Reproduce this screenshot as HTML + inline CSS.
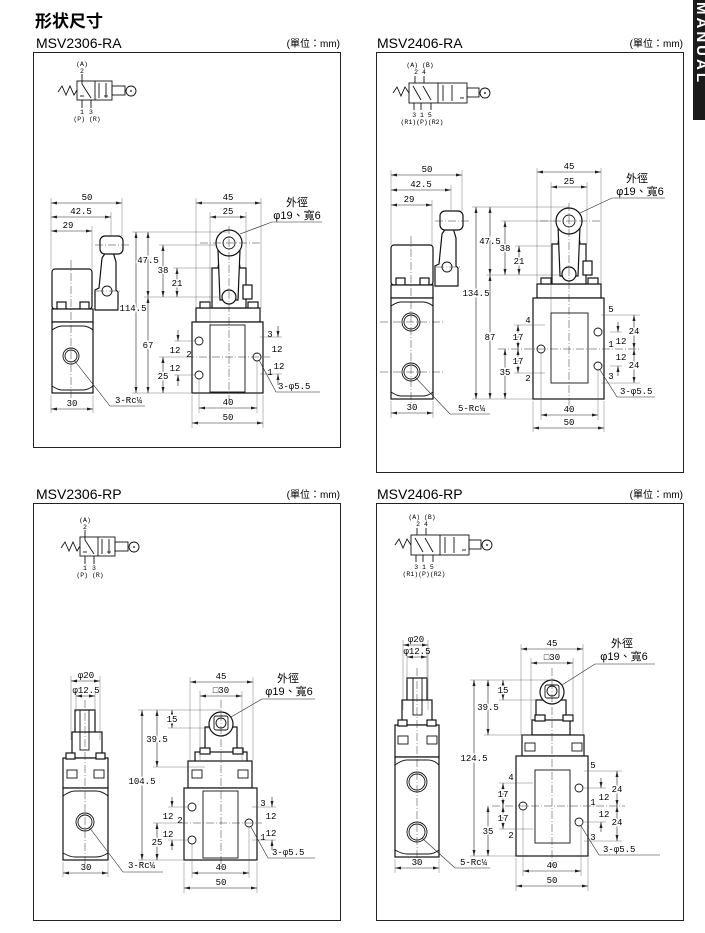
<!DOCTYPE html>
<html><head><meta charset="utf-8"><style>
html,body{margin:0;padding:0;background:#fff}
svg{display:block}
.t{font-family:"Liberation Sans","Noto Sans CJK TC",sans-serif}
.m{font-family:"Liberation Mono",monospace;font-size:9px}
.s{font-family:"Liberation Mono",monospace;font-size:6.5px}
.b{fill:#fff;stroke:#111;stroke-width:1.2}
.d{stroke:#222;stroke-width:.6;fill:none}
.e{stroke:#555;stroke-width:.4;fill:none}
.c{stroke:#333;stroke-width:.5;fill:none;stroke-dasharray:8 2 1 2}
.k{fill:none;stroke:#111;stroke-width:.9}
</style></head><body>
<svg width="705" height="933" viewBox="0 0 705 933" xmlns="http://www.w3.org/2000/svg">
<defs>
<marker id="a" markerWidth="6" markerHeight="4" refX="6" refY="2" orient="auto-start-reverse" markerUnits="userSpaceOnUse"><path d="M0,0.5 L6,2 L0,3.5Z" fill="#222"/></marker>
<g id="v3">
<path class="k" d="M58,92 L62,86 L66,95 L70,86 L74,95 L77,90"/>
<rect class="k" x="77" y="81" width="35" height="19"/><line class="k" x1="95" y1="81" x2="95" y2="100"/>
<line class="k" x1="82" y1="84" x2="91" y2="98"/>
<line class="k" x1="82" y1="74" x2="82" y2="84"/><line class="k" x1="82" y1="100" x2="82" y2="108"/><line class="k" x1="91" y1="100" x2="91" y2="108"/>
<line class="k" x1="80" y1="96" x2="84" y2="96"/>
<line class="k" x1="99" y1="83" x2="99" y2="98"/><line class="k" x1="106" y1="83" x2="106" y2="98"/>
<line class="k" x1="104" y1="96" x2="108" y2="96"/>
<rect class="k" x="112" y="86" width="13" height="9"/><circle class="k" cx="131" cy="91" r="5"/><circle cx="131" cy="91" r=".9"/>
<text class="s" x="82" y="66" text-anchor="middle">(A)</text><text class="s" x="82" y="73" text-anchor="middle">2</text>
<text class="s" x="82" y="114" text-anchor="middle">1</text><text class="s" x="91" y="114" text-anchor="middle">3</text>
<text class="s" x="87" y="121" text-anchor="middle">(P) (R)</text>
</g>
<g id="v5">
<path class="k" d="M393,93 L397,87 L401,96 L405,87 L409,93"/>
<rect class="k" x="409" y="83" width="58" height="20"/><line class="k" x1="438" y1="83" x2="438" y2="103"/>
<line class="k" x1="413" y1="86" x2="421" y2="100"/><line class="k" x1="423" y1="86" x2="431" y2="100"/>
<line class="k" x1="415" y1="76" x2="415" y2="83"/><line class="k" x1="424" y1="76" x2="424" y2="83"/>
<line class="k" x1="414" y1="103" x2="414" y2="110"/><line class="k" x1="421" y1="103" x2="421" y2="110"/><line class="k" x1="431" y1="103" x2="431" y2="110"/>
<line class="k" x1="443" y1="85" x2="443" y2="101"/><line class="k" x1="452" y1="85" x2="452" y2="101"/><line class="k" x1="460" y1="98" x2="464" y2="98"/>
<rect class="k" x="467" y="88" width="12" height="9"/><circle class="k" cx="485" cy="93" r="5"/><circle cx="485" cy="93" r=".9"/>
<text class="s" x="420" y="67" text-anchor="middle">(A) (B)</text><text class="s" x="420" y="74" text-anchor="middle">2 4</text>
<text class="s" x="422" y="117" text-anchor="middle">3 1 5</text><text class="s" x="422" y="124" text-anchor="middle">(R1)(P)(R2)</text>
</g>
</defs>

<text class="t" x="35" y="27" font-size="17" font-weight="bold">形状尺寸</text>
<rect x="693" y="0" width="12" height="120" fill="#1a1a1a"/>
<text class="t" x="697" y="2" font-size="15" font-weight="bold" fill="#fff" transform="rotate(90 697 2)" letter-spacing="3">MANUAL</text>

<text class="t" x="36" y="48" font-size="14">MSV2306-RA</text><text class="t" x="340" y="47" font-size="10" text-anchor="end">(單位：mm)</text>
<text class="t" x="377" y="48" font-size="14">MSV2406-RA</text><text class="t" x="683" y="47" font-size="10" text-anchor="end">(單位：mm)</text>
<text class="t" x="36" y="499" font-size="14">MSV2306-RP</text><text class="t" x="340" y="498" font-size="10" text-anchor="end">(單位：mm)</text>
<text class="t" x="377" y="499" font-size="14">MSV2406-RP</text><text class="t" x="683" y="498" font-size="10" text-anchor="end">(單位：mm)</text>
<rect x="33.5" y="52.5" width="307" height="395" fill="none" stroke="#222" stroke-width="1"/>
<rect x="376.5" y="52.5" width="307" height="420" fill="none" stroke="#222" stroke-width="1"/>
<rect x="33.5" y="503.5" width="307" height="417" fill="none" stroke="#222" stroke-width="1"/>
<rect x="376.5" y="503.5" width="307" height="417" fill="none" stroke="#222" stroke-width="1"/>

<use href="#v3"/>
<use href="#v3" transform="translate(3,456)"/>
<use href="#v5"/>
<use href="#v5" transform="translate(2,452)"/>

<g>
<rect class="b" x="52" y="269" width="40" height="40" rx="3"/>
<rect class="b" x="57" y="302" width="9" height="7"/><rect class="b" x="80" y="302" width="9" height="7"/>
<rect class="b" x="52" y="309" width="41" height="13"/>
<rect class="b" x="52" y="322" width="41" height="71"/>
<path class="k" d="M52,330 Q58,326 62,326 L83,326 Q88,326 93,330"/><path class="k" d="M52,386 Q58,390 62,390 L83,390 Q88,390 93,386"/>
<circle class="k" cx="71" cy="356" r="8"/><circle class="k" cx="71" cy="356" r="6"/>
<path class="b" d="M95,310 L95,290 L99,288 L102,258 L106,252 L113,252 L116,262 L116,290 L118,292 L118,310Z"/>
<rect class="b" x="100" y="236" width="23" height="18" rx="5"/>
<circle class="k" cx="107" cy="291" r="5"/>
<line class="c" x1="71" y1="260" x2="71" y2="400"/><line class="c" x1="95" y1="245" x2="130" y2="245"/><line class="c" x1="96" y1="291" x2="122" y2="291"/>
<line class="d" x1="51" y1="203" x2="122" y2="203" marker-start="url(#a)" marker-end="url(#a)"/><text class="m" x="87" y="200" text-anchor="middle">50</text>
<line class="d" x1="51" y1="217" x2="111" y2="217" marker-start="url(#a)" marker-end="url(#a)"/><text class="m" x="81" y="214" text-anchor="middle">42.5</text>
<line class="d" x1="51" y1="231" x2="92" y2="231" marker-start="url(#a)" marker-end="url(#a)"/><text class="m" x="68" y="228" text-anchor="middle">29</text>
<path class="e" d="M51,198 V269 M122,198 V236 M111,212 V236 M92,226 V269 M51,395 V413 M93,395 V413"/>
<line class="d" x1="51" y1="409" x2="93" y2="409" marker-start="url(#a)" marker-end="url(#a)"/><text class="m" x="72" y="406" text-anchor="middle">30</text>
<path class="d" d="M74,360 L110,406 L145,406"/><text class="m" x="115" y="403">3-Rc¼</text>

<rect class="b" x="196" y="308" width="64" height="14"/>
<rect class="b" x="200" y="302" width="10" height="6"/><rect class="b" x="248" y="302" width="10" height="6"/>
<path class="b" d="M212,308 L212,268 L218,268 L220,252 L238,252 L240,268 L246,268 L246,308Z"/>
<path class="b" d="M220,300 L218,250 L240,250 L238,300Z"/>
<circle class="b" cx="229" cy="243" r="13"/><circle class="k" cx="229" cy="243" r="6"/>
<circle class="b" cx="229" cy="297" r="7"/>
<rect class="b" x="243" y="285" width="9" height="14"/>
<rect class="b" x="192" y="322" width="71" height="71"/>
<rect class="k" x="210" y="325" width="35" height="67"/>
<circle class="k" cx="199" cy="341" r="4"/><circle class="k" cx="199" cy="375" r="4"/><circle class="k" cx="257" cy="357" r="4"/>
<line class="c" x1="229" y1="226" x2="229" y2="400"/><line class="c" x1="200" y1="243" x2="262" y2="243"/>
<line class="c" x1="186" y1="357" x2="270" y2="357"/>
<path class="e" d="M196,198 V308 M261,198 V308 M210,212 V325 M246,212 V268 M132,232 H229 M132,393 H192 M144,297 H220 M159,245 H216 M173,268 H212 M174,341 H195 M174,375 H195 M159,357 H186 M260,337 H282 M260,374 H282 M192,395 V428 M263,395 V428 M199,379 V413 M257,361 V413"/>
<line class="d" x1="196" y1="203" x2="261" y2="203" marker-start="url(#a)" marker-end="url(#a)"/><text class="m" x="228" y="200" text-anchor="middle">45</text>
<line class="d" x1="210" y1="217" x2="246" y2="217" marker-start="url(#a)" marker-end="url(#a)"/><text class="m" x="228" y="214" text-anchor="middle">25</text>
<line class="d" x1="136" y1="232" x2="136" y2="393" marker-start="url(#a)" marker-end="url(#a)"/><text class="m" x="133" y="311" text-anchor="middle" fill="#000" style="paint-order:stroke;stroke:#fff;stroke-width:3">114.5</text>
<line class="d" x1="148" y1="232" x2="148" y2="297" marker-start="url(#a)" marker-end="url(#a)"/><text class="m" x="148" y="263" text-anchor="middle" style="paint-order:stroke;stroke:#fff;stroke-width:3">47.5</text>
<line class="d" x1="148" y1="297" x2="148" y2="393" marker-start="url(#a)" marker-end="url(#a)"/><text class="m" x="148" y="348" text-anchor="middle" style="paint-order:stroke;stroke:#fff;stroke-width:3">67</text>
<line class="d" x1="163" y1="245" x2="163" y2="297" marker-start="url(#a)" marker-end="url(#a)"/><text class="m" x="163" y="273" text-anchor="middle" style="paint-order:stroke;stroke:#fff;stroke-width:3">38</text>
<line class="d" x1="177" y1="268" x2="177" y2="297" marker-start="url(#a)" marker-end="url(#a)"/><text class="m" x="177" y="286" text-anchor="middle" style="paint-order:stroke;stroke:#fff;stroke-width:3">21</text>
<line class="d" x1="178" y1="330" x2="178" y2="341" marker-end="url(#a)"/><line class="d" x1="178" y1="386" x2="178" y2="375" marker-end="url(#a)"/>
<text class="m" x="175" y="353" text-anchor="middle">12</text><text class="m" x="189" y="357" text-anchor="middle">2</text><text class="m" x="175" y="371" text-anchor="middle">12</text>
<line class="d" x1="163" y1="357" x2="163" y2="393" marker-start="url(#a)" marker-end="url(#a)"/><text class="m" x="163" y="379" text-anchor="middle" style="paint-order:stroke;stroke:#fff;stroke-width:3">25</text>
<line class="d" x1="278" y1="326" x2="278" y2="337" marker-end="url(#a)"/><line class="d" x1="278" y1="385" x2="278" y2="374" marker-end="url(#a)"/>
<text class="m" x="270" y="337" text-anchor="middle">3</text><text class="m" x="277" y="352" text-anchor="middle">12</text><text class="m" x="270" y="375" text-anchor="middle">1</text><text class="m" x="279" y="369" text-anchor="middle">12</text>
<path class="d" d="M259,360 L276,392 L320,392"/><text class="m" x="278" y="389">3-φ5.5</text>
<line class="d" x1="199" y1="408" x2="257" y2="408" marker-start="url(#a)" marker-end="url(#a)"/><text class="m" x="228" y="405" text-anchor="middle">40</text>
<line class="d" x1="192" y1="423" x2="263" y2="423" marker-start="url(#a)" marker-end="url(#a)"/><text class="m" x="228" y="420" text-anchor="middle">50</text>
<path class="d" d="M240,234 L272,222 L322,222"/>
<text class="t" x="297" y="206" font-size="11" text-anchor="middle">外徑</text><text class="t" x="297" y="219" font-size="11" text-anchor="middle">φ19、寬6</text>
</g>

<g>
<rect class="b" x="391" y="245" width="42" height="40" rx="3"/>
<rect class="b" x="396" y="278" width="9" height="7"/><rect class="b" x="420" y="278" width="9" height="7"/>
<rect class="b" x="391" y="285" width="42" height="13"/>
<rect class="b" x="391" y="298" width="42" height="101"/>
<path class="k" d="M391,306 Q397,302 401,302 L423,302 Q428,302 433,306"/><path class="k" d="M391,392 Q397,396 401,396 L423,396 Q428,396 433,392"/>
<circle class="k" cx="411" cy="322" r="9"/><circle class="k" cx="411" cy="322" r="7"/>
<circle class="k" cx="411" cy="372" r="9"/><circle class="k" cx="411" cy="372" r="7"/>
<path class="b" d="M435,286 L435,266 L439,264 L442,234 L446,228 L453,228 L456,238 L456,266 L458,268 L458,286Z"/>
<rect class="b" x="440" y="211" width="23" height="19" rx="5"/>
<circle class="k" cx="447" cy="267" r="5"/>
<line class="c" x1="411" y1="236" x2="411" y2="405"/><line class="c" x1="435" y1="221" x2="470" y2="221"/><line class="c" x1="436" y1="267" x2="462" y2="267"/>
<line class="c" x1="380" y1="322" x2="445" y2="322"/><line class="c" x1="380" y1="372" x2="445" y2="372"/>
<line class="d" x1="391" y1="175" x2="462" y2="175" marker-start="url(#a)" marker-end="url(#a)"/><text class="m" x="427" y="172" text-anchor="middle">50</text>
<line class="d" x1="391" y1="190" x2="451" y2="190" marker-start="url(#a)" marker-end="url(#a)"/><text class="m" x="421" y="187" text-anchor="middle">42.5</text>
<line class="d" x1="391" y1="205" x2="432" y2="205" marker-start="url(#a)" marker-end="url(#a)"/><text class="m" x="409" y="202" text-anchor="middle">29</text>
<path class="e" d="M391,170 V245 M462,170 V211 M451,185 V211 M432,200 V245 M391,401 V418 M433,401 V418"/>
<line class="d" x1="391" y1="413" x2="433" y2="413" marker-start="url(#a)" marker-end="url(#a)"/><text class="m" x="412" y="410" text-anchor="middle">30</text>
<path class="d" d="M415,377 L450,414 L490,414"/><text class="m" x="458" y="411">5-Rc¼</text>

<rect class="b" x="537" y="284" width="64" height="14"/>
<rect class="b" x="541" y="278" width="10" height="6"/><rect class="b" x="588" y="278" width="10" height="6"/>
<path class="b" d="M552,284 L552,244 L558,244 L560,228 L578,228 L580,244 L586,244 L586,284Z"/>
<path class="b" d="M560,276 L558,226 L580,226 L578,276Z"/>
<circle class="b" cx="569" cy="221" r="13"/><circle class="k" cx="569" cy="221" r="6"/>
<circle class="b" cx="569" cy="274" r="7"/>
<rect class="b" x="583" y="261" width="9" height="14"/>
<rect class="b" x="533" y="298" width="71" height="101"/>
<rect class="k" x="551" y="313" width="37" height="70"/>
<circle class="k" cx="541" cy="349" r="4"/><circle class="k" cx="598" cy="332" r="4"/><circle class="k" cx="598" cy="366" r="4"/>
<line class="c" x1="569" y1="203" x2="569" y2="410"/><line class="c" x1="540" y1="221" x2="602" y2="221"/>
<line class="c" x1="498" y1="349" x2="640" y2="349"/>
<path class="e" d="M537,168 V284 M601,168 V284 M551,182 V313 M587,182 V244 M472,207 H569 M472,399 H533 M486,275 H560 M501,221 H556 M515,246 H552 M514,325 H545 M514,373 H545 M601,315 H640 M601,383 H640 M610,332 H622 M610,366 H622 M533,401 V432 M604,401 V432 M541,353 V420 M598,370 V420"/>
<line class="d" x1="537" y1="172" x2="601" y2="172" marker-start="url(#a)" marker-end="url(#a)"/><text class="m" x="569" y="169" text-anchor="middle">45</text>
<line class="d" x1="551" y1="187" x2="587" y2="187" marker-start="url(#a)" marker-end="url(#a)"/><text class="m" x="569" y="184" text-anchor="middle">25</text>
<line class="d" x1="476" y1="207" x2="476" y2="399" marker-start="url(#a)" marker-end="url(#a)"/><text class="m" x="476" y="296" text-anchor="middle" style="paint-order:stroke;stroke:#fff;stroke-width:3">134.5</text>
<line class="d" x1="490" y1="207" x2="490" y2="275" marker-start="url(#a)" marker-end="url(#a)"/><text class="m" x="490" y="244" text-anchor="middle" style="paint-order:stroke;stroke:#fff;stroke-width:3">47.5</text>
<line class="d" x1="490" y1="275" x2="490" y2="399" marker-start="url(#a)" marker-end="url(#a)"/><text class="m" x="490" y="340" text-anchor="middle" style="paint-order:stroke;stroke:#fff;stroke-width:3">87</text>
<line class="d" x1="505" y1="221" x2="505" y2="275" marker-start="url(#a)" marker-end="url(#a)"/><text class="m" x="505" y="251" text-anchor="middle" style="paint-order:stroke;stroke:#fff;stroke-width:3">38</text>
<line class="d" x1="519" y1="246" x2="519" y2="275" marker-start="url(#a)" marker-end="url(#a)"/><text class="m" x="519" y="264" text-anchor="middle" style="paint-order:stroke;stroke:#fff;stroke-width:3">21</text>
<line class="d" x1="518" y1="325" x2="518" y2="349" marker-start="url(#a)" marker-end="url(#a)"/><line class="d" x1="518" y1="349" x2="518" y2="373" marker-start="url(#a)" marker-end="url(#a)"/>
<text class="m" x="518" y="340" text-anchor="middle" style="paint-order:stroke;stroke:#fff;stroke-width:3">17</text><text class="m" x="518" y="364" text-anchor="middle" style="paint-order:stroke;stroke:#fff;stroke-width:3">17</text>
<line class="d" x1="505" y1="349" x2="505" y2="399" marker-start="url(#a)" marker-end="url(#a)"/><text class="m" x="505" y="375" text-anchor="middle" style="paint-order:stroke;stroke:#fff;stroke-width:3">35</text>
<text class="m" x="528" y="323" text-anchor="middle">4</text><text class="m" x="528" y="381" text-anchor="middle">2</text>
<text class="m" x="611" y="312" text-anchor="middle">5</text><text class="m" x="611" y="347" text-anchor="middle">1</text><text class="m" x="611" y="379" text-anchor="middle">3</text>
<line class="d" x1="634" y1="315" x2="634" y2="349" marker-start="url(#a)" marker-end="url(#a)"/><line class="d" x1="634" y1="349" x2="634" y2="383" marker-start="url(#a)" marker-end="url(#a)"/>
<text class="m" x="634" y="334" text-anchor="middle" style="paint-order:stroke;stroke:#fff;stroke-width:3">24</text><text class="m" x="634" y="368" text-anchor="middle" style="paint-order:stroke;stroke:#fff;stroke-width:3">24</text>
<line class="d" x1="618" y1="322" x2="618" y2="332" marker-end="url(#a)"/><line class="d" x1="618" y1="376" x2="618" y2="366" marker-end="url(#a)"/>
<text class="m" x="621" y="344" text-anchor="middle">12</text><text class="m" x="621" y="360" text-anchor="middle">12</text>
<path class="d" d="M600,370 L617,397 L655,397"/><text class="m" x="620" y="394">3-φ5.5</text>
<line class="d" x1="541" y1="415" x2="598" y2="415" marker-start="url(#a)" marker-end="url(#a)"/><text class="m" x="569" y="412" text-anchor="middle">40</text>
<line class="d" x1="533" y1="428" x2="604" y2="428" marker-start="url(#a)" marker-end="url(#a)"/><text class="m" x="569" y="425" text-anchor="middle">50</text>
<path class="d" d="M580,213 L612,198 L665,198"/>
<text class="t" x="637" y="182" font-size="11" text-anchor="middle">外徑</text><text class="t" x="640" y="195" font-size="11" text-anchor="middle">φ19、寬6</text>
</g>

<g>
<rect class="b" x="75" y="710" width="20" height="24"/>
<rect class="b" x="72" y="732" width="30" height="26"/>
<rect class="k" x="80" y="710" width="9" height="40"/>
<rect class="b" x="63" y="758" width="45" height="30"/>
<rect class="b" x="66" y="753" width="9" height="6"/><rect class="b" x="96" y="753" width="9" height="6"/>
<rect class="k" x="67" y="770" width="10" height="8"/><rect class="k" x="94" y="770" width="10" height="8"/>
<rect class="b" x="63" y="788" width="45" height="72"/>
<path class="k" d="M63,796 Q70,791 75,791 L96,791 Q102,791 108,796"/><path class="k" d="M63,853 Q70,857 75,857 L96,857 Q102,857 108,853"/>
<circle class="k" cx="85" cy="822" r="9"/><circle class="k" cx="85" cy="822" r="7"/>
<line class="c" x1="85" y1="700" x2="85" y2="866"/>
<path class="e" d="M71,676 V740 M100,676 V740 M76,691 V712 M95,691 V712 M63,862 V877 M108,862 V877"/>
<line class="d" x1="71" y1="681" x2="100" y2="681" marker-start="url(#a)" marker-end="url(#a)"/><text class="m" x="86" y="678" text-anchor="middle">φ20</text>
<line class="d" x1="76" y1="696" x2="95" y2="696" marker-start="url(#a)" marker-end="url(#a)"/><text class="m" x="86" y="693" text-anchor="middle">φ12.5</text>
<line class="d" x1="63" y1="873" x2="108" y2="873" marker-start="url(#a)" marker-end="url(#a)"/><text class="m" x="86" y="870" text-anchor="middle">30</text>
<path class="d" d="M89,827 L123,872 L163,872"/><text class="m" x="128" y="868">3-Rc¼</text>

<rect class="b" x="205" y="727" width="32" height="34"/>
<circle class="b" cx="221" cy="724" r="12"/><rect class="k" x="214" y="716" width="14" height="14" rx="2"/><circle class="k" cx="221" cy="723" r="5"/>
<rect class="b" x="195" y="752" width="52" height="10"/>
<rect class="b" x="200" y="748" width="10" height="6"/><rect class="b" x="233" y="748" width="10" height="6"/>
<rect class="b" x="188" y="761" width="64" height="27"/>
<rect class="k" x="192" y="770" width="10" height="8"/><rect class="k" x="238" y="770" width="10" height="8"/>
<rect class="b" x="184" y="788" width="73" height="72"/>
<rect class="k" x="203" y="791" width="35" height="67"/>
<circle class="k" cx="192" cy="807" r="4"/><circle class="k" cx="192" cy="840" r="4"/><circle class="k" cx="249" cy="823" r="4"/>
<line class="c" x1="221" y1="700" x2="221" y2="868"/><line class="c" x1="180" y1="823" x2="262" y2="823"/>
<path class="e" d="M190,677 V760 M253,677 V760 M200,691 V760 M242,691 V760 M138,710 H221 M138,860 H184 M153,767 H205 M168,728 H210 M168,807 H188 M168,840 H188 M153,823 H180 M252,807 H276 M252,840 H276 M184,862 V893 M257,862 V893 M192,844 V878 M249,827 V878"/>
<line class="d" x1="190" y1="682" x2="253" y2="682" marker-start="url(#a)" marker-end="url(#a)"/><text class="m" x="221" y="679" text-anchor="middle">45</text>
<line class="d" x1="200" y1="696" x2="242" y2="696" marker-start="url(#a)" marker-end="url(#a)"/><text class="m" x="221" y="693" text-anchor="middle">□30</text>
<line class="d" x1="142" y1="710" x2="142" y2="860" marker-start="url(#a)" marker-end="url(#a)"/><text class="m" x="142" y="784" text-anchor="middle" style="paint-order:stroke;stroke:#fff;stroke-width:3">104.5</text>
<line class="d" x1="157" y1="710" x2="157" y2="767" marker-start="url(#a)" marker-end="url(#a)"/><text class="m" x="157" y="742" text-anchor="middle" style="paint-order:stroke;stroke:#fff;stroke-width:3">39.5</text>
<line class="d" x1="172" y1="710" x2="172" y2="728" marker-start="url(#a)" marker-end="url(#a)"/><text class="m" x="172" y="722" text-anchor="middle" style="paint-order:stroke;stroke:#fff;stroke-width:3">15</text>
<line class="d" x1="172" y1="797" x2="172" y2="807" marker-end="url(#a)"/><line class="d" x1="172" y1="850" x2="172" y2="840" marker-end="url(#a)"/>
<text class="m" x="168" y="819" text-anchor="middle">12</text><text class="m" x="180" y="823" text-anchor="middle">2</text><text class="m" x="168" y="837" text-anchor="middle">12</text>
<line class="d" x1="157" y1="823" x2="157" y2="860" marker-start="url(#a)" marker-end="url(#a)"/><text class="m" x="157" y="845" text-anchor="middle" style="paint-order:stroke;stroke:#fff;stroke-width:3">25</text>
<line class="d" x1="272" y1="797" x2="272" y2="807" marker-end="url(#a)"/><line class="d" x1="272" y1="850" x2="272" y2="840" marker-end="url(#a)"/>
<text class="m" x="263" y="806" text-anchor="middle">3</text><text class="m" x="271" y="819" text-anchor="middle">12</text><text class="m" x="263" y="840" text-anchor="middle">1</text><text class="m" x="271" y="836" text-anchor="middle">12</text>
<path class="d" d="M251,827 L268,858 L315,858"/><text class="m" x="272" y="855">3-φ5.5</text>
<line class="d" x1="192" y1="873" x2="249" y2="873" marker-start="url(#a)" marker-end="url(#a)"/><text class="m" x="221" y="870" text-anchor="middle">40</text>
<line class="d" x1="184" y1="888" x2="257" y2="888" marker-start="url(#a)" marker-end="url(#a)"/><text class="m" x="221" y="885" text-anchor="middle">50</text>
<path class="d" d="M231,717 L262,699 L315,699"/>
<text class="t" x="288" y="682" font-size="11" text-anchor="middle">外徑</text><text class="t" x="289" y="695" font-size="11" text-anchor="middle">φ19、寬6</text>
</g>

<g>
<rect class="b" x="407" y="678" width="20" height="24"/>
<rect class="b" x="402" y="700" width="30" height="25"/>
<rect class="k" x="413" y="678" width="9" height="37"/>
<rect class="b" x="395" y="725" width="44" height="32"/>
<rect class="b" x="398" y="720" width="9" height="6"/><rect class="b" x="427" y="720" width="9" height="6"/>
<rect class="k" x="398" y="736" width="10" height="8"/><rect class="k" x="427" y="736" width="10" height="8"/>
<rect class="b" x="395" y="757" width="44" height="100"/>
<path class="k" d="M395,765 Q402,760 407,760 L428,760 Q434,760 439,765"/><path class="k" d="M395,850 Q402,854 407,854 L428,854 Q434,854 439,850"/>
<circle class="k" cx="417" cy="782" r="10"/><circle class="k" cx="417" cy="782" r="8"/>
<circle class="k" cx="417" cy="832" r="10"/><circle class="k" cx="417" cy="832" r="8"/>
<line class="c" x1="417" y1="668" x2="417" y2="864"/>
<path class="e" d="M403,640 V710 M428,640 V710 M407,652 V680 M427,652 V680 M395,859 V873 M439,859 V873"/>
<line class="d" x1="403" y1="645" x2="428" y2="645" marker-start="url(#a)" marker-end="url(#a)"/><text class="m" x="416" y="642" text-anchor="middle">φ20</text>
<line class="d" x1="407" y1="657" x2="427" y2="657" marker-start="url(#a)" marker-end="url(#a)"/><text class="m" x="417" y="654" text-anchor="middle">φ12.5</text>
<line class="d" x1="395" y1="868" x2="439" y2="868" marker-start="url(#a)" marker-end="url(#a)"/><text class="m" x="417" y="865" text-anchor="middle">30</text>
<path class="d" d="M422,838 L455,868 L490,868"/><text class="m" x="460" y="865">5-Rc¼</text>

<rect class="b" x="536" y="700" width="30" height="25"/>
<circle class="b" cx="552" cy="692" r="12"/><rect class="k" x="545" y="685" width="14" height="13" rx="2"/><circle class="k" cx="552" cy="691" r="5"/>
<rect class="b" x="532" y="720" width="38" height="15"/>
<rect class="b" x="535" y="715" width="10" height="6"/><rect class="b" x="563" y="715" width="10" height="6"/>
<rect class="b" x="522" y="735" width="62" height="21"/>
<rect class="k" x="525" y="743" width="10" height="8"/><rect class="k" x="572" y="743" width="10" height="8"/>
<rect class="b" x="516" y="756" width="72" height="100"/>
<rect class="k" x="535" y="770" width="35" height="73"/>
<circle class="k" cx="523" cy="806" r="4"/><circle class="k" cx="579" cy="788" r="4"/><circle class="k" cx="579" cy="822" r="4"/>
<line class="c" x1="552" y1="668" x2="552" y2="866"/><line class="c" x1="492" y1="806" x2="625" y2="806"/>
<path class="e" d="M521,644 V735 M583,644 V735 M531,658 V720 M573,658 V720 M470,680 H552 M470,856 H516 M484,735 H532 M499,700 H536 M499,783 H533 M499,829 H533 M584,771 H622 M584,841 H622 M584,788 H606 M584,822 H606 M516,858 V891 M588,858 V891 M523,810 V876 M581,826 V876"/>
<line class="d" x1="521" y1="649" x2="583" y2="649" marker-start="url(#a)" marker-end="url(#a)"/><text class="m" x="552" y="646" text-anchor="middle">45</text>
<line class="d" x1="531" y1="663" x2="573" y2="663" marker-start="url(#a)" marker-end="url(#a)"/><text class="m" x="552" y="660" text-anchor="middle">□30</text>
<line class="d" x1="474" y1="680" x2="474" y2="856" marker-start="url(#a)" marker-end="url(#a)"/><text class="m" x="474" y="761" text-anchor="middle" style="paint-order:stroke;stroke:#fff;stroke-width:3">124.5</text>
<line class="d" x1="488" y1="680" x2="488" y2="735" marker-start="url(#a)" marker-end="url(#a)"/><text class="m" x="488" y="710" text-anchor="middle" style="paint-order:stroke;stroke:#fff;stroke-width:3">39.5</text>
<line class="d" x1="503" y1="680" x2="503" y2="700" marker-start="url(#a)" marker-end="url(#a)"/><text class="m" x="503" y="693" text-anchor="middle" style="paint-order:stroke;stroke:#fff;stroke-width:3">15</text>
<line class="d" x1="503" y1="783" x2="503" y2="806" marker-start="url(#a)" marker-end="url(#a)"/><line class="d" x1="503" y1="806" x2="503" y2="829" marker-start="url(#a)" marker-end="url(#a)"/>
<text class="m" x="503" y="797" text-anchor="middle" style="paint-order:stroke;stroke:#fff;stroke-width:3">17</text><text class="m" x="503" y="821" text-anchor="middle" style="paint-order:stroke;stroke:#fff;stroke-width:3">17</text>
<line class="d" x1="488" y1="806" x2="488" y2="856" marker-start="url(#a)" marker-end="url(#a)"/><text class="m" x="488" y="834" text-anchor="middle" style="paint-order:stroke;stroke:#fff;stroke-width:3">35</text>
<text class="m" x="511" y="780" text-anchor="middle">4</text><text class="m" x="511" y="838" text-anchor="middle">2</text>
<text class="m" x="593" y="768" text-anchor="middle">5</text><text class="m" x="593" y="805" text-anchor="middle">1</text><text class="m" x="593" y="840" text-anchor="middle">3</text>
<line class="d" x1="617" y1="771" x2="617" y2="806" marker-start="url(#a)" marker-end="url(#a)"/><line class="d" x1="617" y1="806" x2="617" y2="841" marker-start="url(#a)" marker-end="url(#a)"/>
<text class="m" x="617" y="792" text-anchor="middle" style="paint-order:stroke;stroke:#fff;stroke-width:3">24</text><text class="m" x="617" y="825" text-anchor="middle" style="paint-order:stroke;stroke:#fff;stroke-width:3">24</text>
<line class="d" x1="601" y1="778" x2="601" y2="788" marker-end="url(#a)"/><line class="d" x1="601" y1="832" x2="601" y2="822" marker-end="url(#a)"/>
<text class="m" x="604" y="800" text-anchor="middle">12</text><text class="m" x="604" y="817" text-anchor="middle">12</text>
<path class="d" d="M581,826 L599,855 L660,855"/><text class="m" x="603" y="852">3-φ5.5</text>
<line class="d" x1="523" y1="871" x2="581" y2="871" marker-start="url(#a)" marker-end="url(#a)"/><text class="m" x="552" y="868" text-anchor="middle">40</text>
<line class="d" x1="516" y1="886" x2="588" y2="886" marker-start="url(#a)" marker-end="url(#a)"/><text class="m" x="552" y="883" text-anchor="middle">50</text>
<path class="d" d="M562,685 L595,664 L655,664"/>
<text class="t" x="622" y="647" font-size="11" text-anchor="middle">外徑</text><text class="t" x="624" y="660" font-size="11" text-anchor="middle">φ19、寬6</text>
</g>
</svg>
</body></html>
